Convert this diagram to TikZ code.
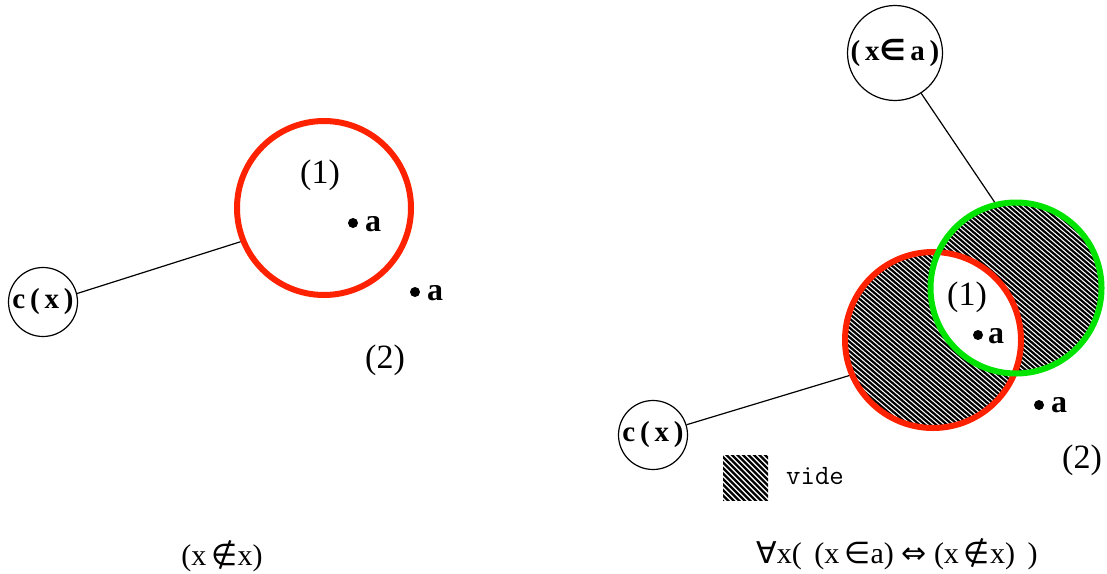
\documentclass[tikz,border=0pt]{standalone}
\usepackage{fontspec}
\setmainfont{Liberation Serif}
\newfontfamily\symfont{DejaVu Sans}
\definecolor{redc}{RGB}{255,34,0}
\definecolor{greenc}{RGB}{0,228,0}
\begin{document}
\begin{tikzpicture}[x=1pt,y=-1pt,
  ring/.style={circle, draw, inner sep=0pt, line width=6pt},
  small/.style={circle, draw, line width=1.2pt, inner sep=0pt, font=\bfseries\fontsize{29}{29}\selectfont},
  conn/.style={line width=1.2pt},
  lbl/.style={font=\fontsize{34}{34}\selectfont, inner sep=0pt},
  alab/.style={font=\bfseries\fontsize{32}{32}\selectfont, inner sep=0pt, anchor=base west},
  dotp/.style={circle, fill, inner sep=0pt, minimum size=10pt},
  hatch/.style={line width=2.2pt},
  formula/.style={font=\fontsize{30}{30}\selectfont, inner sep=0pt}
]
\useasboundingbox (0,0) rectangle (1107,573);

% hatching: symmetric difference of the two sets
\begin{scope}[even odd rule]
  \clip (933,340) circle[radius=88] (1016,288) circle[radius=85.5];
  \foreach \c in {300,305.5,...,960} \draw[hatch] (\c+100,100) -- (\c+550,482.5);
\end{scope}
% legend square
\begin{scope}
  \clip (723,455) rectangle (768,500);
  \foreach \c in {200,205.5,...,330} \draw[hatch] (\c+400,400) -- (\c+550,550);
\end{scope}

% ---------- left picture ----------
\node[ring, draw=redc, minimum size=174pt] (R1) at (324,208) {};
\node[small, minimum size=69pt] (C1) at (43,302) {c\,(\,x\,)};
\draw[conn] (C1.14) -- (R1.202);
\node[lbl] (L1) at (320,175) {(1)};
\node[dotp] (d1) at (353,223) {};
\node[alab] (a1) at (365,231) {a};
\node[dotp] (d2) at (415,292) {};
\node[alab] (a2) at (427,300) {a};
\node[lbl] (L2) at (385,360) {(2)};

% ---------- right picture ----------
\node[ring, draw=redc, minimum size=176pt] (R2) at (933,340) {};
\node[ring, draw=greenc, minimum size=171pt] (G) at (1016,288) {};
\node[small, minimum size=95pt] (XA) at (895,53) {(\,x{\symfont ∈}\,a\,)};
\node[small, minimum size=69pt] (C2) at (653,435) {c\,(\,x\,)};
\draw[conn] (C2.17) -- (R2.203);
\draw[conn] (XA.-57) -- (G.104);
\node[lbl] (L3) at (967,297) {(1)};
\node[dotp] (d3) at (978,335) {};
\node[alab] (a3) at (988,343) {a};
\node[dotp] (d4) at (1039,405) {};
\node[alab] (a4) at (1051,412) {a};
\node[lbl] (L4) at (1082,460) {(2)};
\node[font=\ttfamily\fontsize{28}{28}\selectfont, inner sep=0pt] (V) at (815,476) {vide};

% ---------- formulas ----------
\node[formula] (F1) at (222,556) {(x\,{\symfont ∉}x)};
\node[formula] (F2) at (897,554) {{\symfont ∀}x( \,(x\,{\symfont ∈}a) {\symfont ⇔} (x\,{\symfont ∉}x) \,)};
\end{tikzpicture}
\end{document}
